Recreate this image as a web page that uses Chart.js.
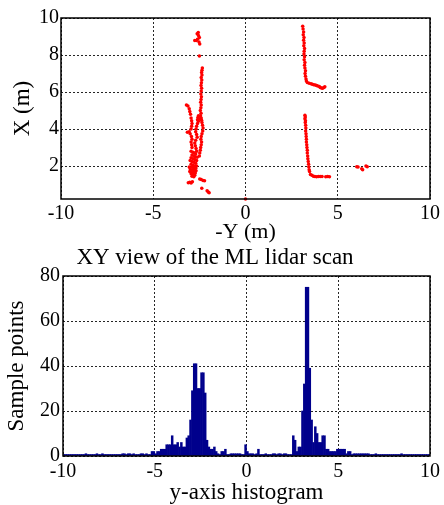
<!DOCTYPE html>
<html><head><meta charset="utf-8">
<script src="https://cdn.jsdelivr.net/npm/chart.js@4"></script>
<style>
html,body{margin:0;padding:0;background:#fff;width:444px;height:505px;overflow:hidden;}
#c1{position:absolute;left:0;top:0;}
#c2{position:absolute;left:0;top:260px;}
</style></head><body>
<canvas id="c1" width="444" height="272" style="width:444px;height:272px"></canvas>
<canvas id="c2" width="444" height="245" style="width:444px;height:245px"></canvas>
<script>
// ---------- Data ----------
const scanTitle = 'XY view of the ML lidar scan';
const scanXTitle = '-Y (m)';
const scanYTitle = 'X (m)';
const scanXTicks = [-10, -5, 0, 5, 10];
const scanYTicks = [2, 4, 6, 8, 10];
const scanYMin = 0.22, scanYMax = 10;

// lidar points: [-Y, X]
const scanPoints = [
  // left object, top
  [-2.62,9.15],[-2.55,9.05],[-2.50,8.95],[-2.60,8.85],[-2.75,8.78],[-2.66,8.78],[-2.52,8.70],[-2.48,8.60],[-2.56,9.22],[-2.50,7.95],
  // left object, right strand
  [-2.34,7.30],[-2.36,7.18],[-2.38,7.05],[-2.36,6.92],[-2.40,6.78],[-2.37,6.65],[-2.39,6.50],[-2.41,6.35],[-2.38,6.20],[-2.40,6.05],
  [-2.42,5.90],[-2.39,5.75],[-2.41,5.60],[-2.43,5.45],[-2.40,5.30],[-2.42,5.15],[-2.45,5.00],[-2.41,4.85],[-2.44,4.72],[-2.40,4.60],
  [-2.38,4.48],[-2.36,4.35],[-2.33,4.20],[-2.30,4.05],[-2.32,3.90],[-2.36,3.75],[-2.40,3.60],[-2.42,3.45],[-2.38,3.30],[-2.40,3.15],
  [-2.43,3.00],[-2.45,2.85],[-2.48,2.70],[-2.50,2.55],
  [-2.55,4.72],[-2.58,4.62],[-2.50,4.55],[-2.60,4.50],[-2.55,4.42],
  // left object, left strand
  [-3.20,5.30],[-3.12,5.25],[-3.05,5.10],[-3.02,4.95],[-2.98,4.80],[-2.95,4.60],[-2.92,4.45],[-2.90,4.30],[-2.92,4.15],[-2.95,4.00],
  [-3.05,3.85],[-3.15,3.82],[-3.00,3.75],[-2.93,3.60],[-2.90,3.45],[-2.95,3.30],[-2.92,3.15],[-2.90,3.00],
  // left object, middle strand
  [-2.60,4.30],[-2.65,4.15],[-2.68,4.00],[-2.70,3.85],[-2.65,3.70],[-2.62,3.55],[-2.70,3.40],[-2.75,3.25],[-2.72,3.10],[-2.68,2.95],[-2.65,2.80],
  // left object, dense base
  [-2.95,2.80],[-2.85,2.75],[-2.78,2.70],[-2.70,2.65],[-2.90,2.60],[-2.80,2.55],[-2.72,2.50],[-2.62,2.48],[-2.95,2.45],[-2.85,2.40],
  [-2.75,2.35],[-2.65,2.30],[-3.00,2.30],[-2.90,2.25],[-2.80,2.20],[-2.70,2.15],[-2.95,2.10],[-2.85,2.05],[-2.75,2.00],[-2.65,2.00],
  [-3.05,1.95],[-2.90,1.95],[-2.80,1.90],[-2.70,1.88],[-3.00,1.85],[-2.88,1.80],[-2.78,1.78],[-2.68,1.75],[-3.02,1.70],[-2.92,1.70],
  [-2.82,1.65],[-2.72,1.62],[-2.95,1.58],[-2.85,1.55],[-2.75,1.50],[-2.90,1.45],[-2.80,1.42],
  // left object, bottom scatter
  [-3.10,1.10],[-3.02,1.12],[-2.95,1.08],[-2.88,1.15],[-2.48,1.30],[-2.40,1.28],[-2.30,1.22],[-2.22,1.20],[-2.37,0.80],[-2.08,0.66],[-2.02,0.60],[-1.97,0.56],
  // origin
  [0.00,0.22],
  // upper L, vertical
  [3.10,9.55],[3.12,9.40],[3.15,9.25],[3.13,9.10],[3.17,8.95],[3.15,8.80],[3.18,8.65],[3.16,8.50],[3.20,8.35],[3.18,8.20],
  [3.17,8.05],[3.20,7.90],[3.18,7.75],[3.22,7.60],[3.20,7.45],[3.22,7.30],[3.25,7.15],[3.23,7.00],[3.25,6.85],[3.28,6.70],[3.30,6.60],
  // upper L, horizontal
  [3.35,6.52],[3.45,6.48],[3.55,6.45],[3.62,6.42],[3.70,6.40],[3.78,6.38],[3.85,6.35],[3.92,6.32],[4.00,6.30],[4.05,6.25],
  [4.12,6.22],[4.18,6.20],[4.25,6.25],[4.30,6.28],
  // lower L, vertical
  [3.22,4.75],[3.24,4.65],[3.22,4.55],[3.25,4.45],[3.24,4.35],[3.26,4.20],[3.27,4.05],[3.26,3.90],[3.28,3.75],[3.29,3.60],
  [3.30,3.45],[3.30,3.30],[3.32,3.15],[3.33,3.00],[3.35,2.85],[3.35,2.70],[3.37,2.55],[3.38,2.40],[3.40,2.25],[3.42,2.10],
  [3.43,1.95],[3.45,1.80],[3.47,1.70],
  // lower L, horizontal
  [3.52,1.55],[3.60,1.50],[3.68,1.45],[3.76,1.43],[3.85,1.42],[3.95,1.43],[4.05,1.44],[4.15,1.43],[4.35,1.42],[4.45,1.43],[4.55,1.42],
  // far right
  [6.03,1.96],[6.10,1.95],[6.30,1.85],[6.35,1.80],[6.53,2.00],[6.60,1.96]
];

const histXTitle = 'y-axis histogram';
const histYTitle = 'Sample points';
const histXTicks = [-10, -5, 0, 5, 10];
const histYTicks = [0, 20, 40, 60, 80];
const histBinStart = -10;
const histBinWidth = 0.1;
// counts per 0.1 m bin, from -10 to 10
const histCounts = [
  0,0,0,0,0,0,0,0,0,0, 0,0,1,0,0,0,0,0,1,0,
  0,1,0,0,0,0,0,0,0,0, 0,0,1,1,0,1,1,0,1,0,
  0,0,1,1,0,1,0,0,2,2, 1,2,2,3,3,3,5,5,5,9,
  5,5,6,4,6,4,4,8,9,16, 29,41,41,30,30,37,37,28,7,4,
  3,3,4,2,1,0,2,2,3,0, 0,1,1,1,1,1,1,0,0,5,
  2,1,1,1,0,1,3,0,0,0, 1,0,0,0,1,1,0,1,1,0,
  1,1,0,0,0,9,7,2,4,4, 20,32,75,75,39,16,6,13,10,6,
  6,9,9,3,3,2,2,2,2,3, 3,3,3,3,1,2,2,0,1,1,
  1,1,1,1,1,1,1,0,0,0, 1,0,0,0,0,0,0,0,0,0,
  0,0,0,0,1,0,0,0,0,0, 0,0,0,0,0,0,0,0,0,0
];

// ---------- Rendering ----------
Chart.defaults.font.family = "'Liberation Serif', 'Times New Roman', serif";
Chart.defaults.color = '#000';

const framePlugin = {
  id: 'frame',
  afterDatasetsDraw(chart) {
    const {ctx, chartArea: a} = chart;
    ctx.save();
    ctx.strokeStyle = '#000';
    ctx.lineWidth = 1.5;
    ctx.strokeRect(a.left, a.top, a.right - a.left, a.bottom - a.top);
    ctx.restore();
  }
};

const gridOpts = {color: 'rgba(0,0,0,0.85)', lineWidth: 1, drawTicks: false};
const borderOpts = {display: false, dash: [2, 2]};
const setTicks = arr => s => { s.ticks = arr.map(v => ({value: v})); };

new Chart(document.getElementById('c1'), {
  type: 'scatter',
  data: {datasets: [{
    data: scanPoints.map(p => ({x: p[0], y: p[1]})),
    backgroundColor: '#ff0000', borderWidth: 0,
    pointRadius: 1.75, pointHoverRadius: 1.75, clip: false
  }]},
  options: {
    responsive: false, animation: false, events: [],
    layout: {padding: {left: 0, right: 14, top: 18, bottom: 0}},
    plugins: {
      legend: {display: false}, tooltip: {enabled: false},
      title: {display: true, position: 'bottom', text: scanTitle, color: '#000',
        font: {size: 23, weight: 'normal', lineHeight: '28px'}, padding: {top: 0, bottom: 0}}
    },
    scales: {
      x: {type: 'linear', min: -10, max: 10,
        afterBuildTicks: setTicks(scanXTicks), afterFit: s => { s.height = 45; },
        grid: gridOpts, border: borderOpts,
        ticks: {font: {size: 20}, padding: 3, maxRotation: 0, autoSkip: false},
        title: {display: true, text: scanXTitle, font: {size: 22, lineHeight: '24px'}, padding: {top: 0, bottom: 0}}
      },
      y: {type: 'linear', min: scanYMin, max: scanYMax,
        afterBuildTicks: setTicks(scanYTicks), afterFit: s => { s.width = 61; },
        grid: gridOpts, border: borderOpts,
        ticks: {font: {size: 20}, padding: 2, autoSkip: false},
        title: {display: true, text: scanYTitle, font: {size: 23, lineHeight: '24px'}, padding: {top: 11, bottom: 0}}
      }
    }
  },
  plugins: [framePlugin]
});

new Chart(document.getElementById('c2'), {
  type: 'bar',
  data: {datasets: [{
    data: histCounts.map((v, i) => ({x: histBinStart + histBinWidth * (i + 0.5), y: v})),
    backgroundColor: 'rgb(0,0,140)', borderWidth: 0,
    barPercentage: 1, categoryPercentage: 1, minBarLength: 1.5, grouped: false
  }]},
  options: {
    responsive: false, animation: false, events: [],
    layout: {padding: {left: 0, right: 12, top: 16, bottom: 0}},
    plugins: {legend: {display: false}, tooltip: {enabled: false}},
    scales: {
      x: {type: 'linear', min: -10, max: 10, offset: false,
        afterBuildTicks: setTicks(histXTicks), afterFit: s => { s.height = 49; },
        grid: Object.assign({}, gridOpts, {offset: false}), border: borderOpts,
        ticks: {font: {size: 20}, padding: 4, maxRotation: 0, autoSkip: false},
        title: {display: true, text: histXTitle, font: {size: 23, lineHeight: '24px'}, padding: {top: 0, bottom: 0}}
      },
      y: {type: 'linear', min: 0, max: 80,
        afterBuildTicks: setTicks(histYTicks), afterFit: s => { s.width = 63; },
        grid: gridOpts, border: borderOpts,
        ticks: {font: {size: 20}, padding: 3, autoSkip: false},
        title: {display: true, text: histYTitle, font: {size: 23, lineHeight: '24px'}, padding: {top: 5, bottom: 0}}
      }
    }
  },
  plugins: [framePlugin]
});
</script>
</body></html>
